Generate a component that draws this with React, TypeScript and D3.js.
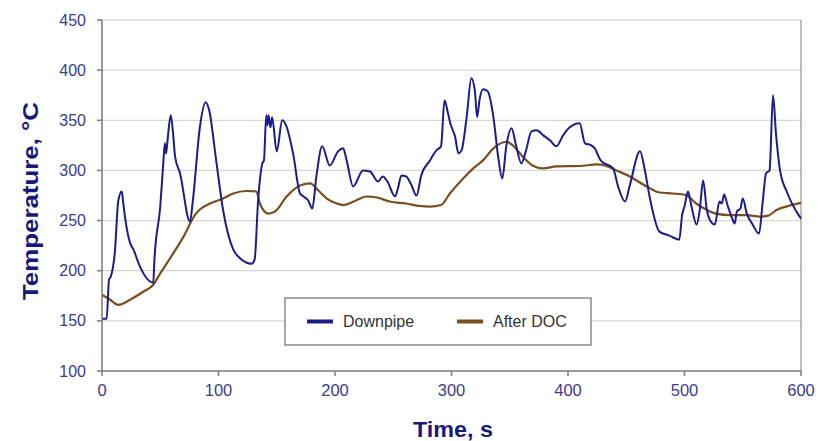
import React from 'react';
import * as d3 from 'd3';

// Downpipe temperature trace (time s, °C)
const downpipeTime = [
  0, 4, 6, 7.5, 11, 14, 17, 18, 19.7, 24, 27, 32.6, 44, 45, 50, 52.6, 54, 55, 56, 59, 61, 62.7, 67,
  75.5, 78, 84, 89, 92, 98, 104, 112.7, 118, 128.5, 131, 134, 137.6, 139, 141, 142, 143, 144.6, 146,
  150, 154.7, 158, 164, 170, 173, 177, 180.5, 184, 189, 195.5, 202.6, 207, 210, 215.6, 224, 230, 237,
  241, 245, 251.5, 254, 257, 261, 265, 270, 274, 281.5, 287, 291, 294, 297, 299, 303, 306, 308.6, 313,
  317, 320, 322, 324, 327, 331, 336, 340, 343.6, 347, 351.6, 355, 360, 364, 368.6, 373, 378.8, 384.5,
  390, 395.8, 401.5, 410, 414.6, 420, 423, 428, 438.7, 443, 449, 453, 461.8, 466, 470, 478.5, 487,
  495.5, 498, 500, 503, 506, 510.4, 513, 516, 519, 522, 526, 530, 532, 534, 537, 541, 543, 545, 548,
  550, 553.5, 558, 564, 567, 570, 573, 576, 578.5, 582, 587.7, 595, 600,
];
const downpipeTemp = [
  152, 152, 191, 194, 218, 270, 279, 270, 254, 228, 221, 204, 188, 211, 264, 307, 327, 317, 327, 355,
  337, 314, 297, 249, 270, 343, 368, 360, 310, 260, 221, 213, 207, 211, 270, 307, 310, 355, 345, 355,
  343, 353, 319, 350, 345, 317, 277, 274, 270, 262, 294, 324, 305, 319, 322, 310, 284, 300, 299, 289,
  294, 289, 274, 282, 295, 294, 287, 275, 295, 310, 320, 324, 370, 357, 347, 334, 317, 320, 353, 392,
  380, 353, 370, 381, 379, 353, 314, 292, 324, 342, 327, 307, 320, 339, 340, 335, 330, 324, 335, 343,
  347, 327, 325, 322, 310, 302, 284, 269, 285, 319, 300, 274, 239, 235, 231, 256, 264, 279, 264, 246,
  260, 290, 262, 250, 246, 269, 267, 276, 265, 252, 247, 259, 262, 272, 257, 247, 237, 267, 297, 300,
  375, 337, 300, 279, 261, 252,
];

// After DOC temperature trace
const docTime = [
  0, 7, 14, 24, 35.4, 44, 49.8, 61, 70, 80, 84, 92.7, 104, 112.7, 124, 132.6, 135.5, 142.7, 148.5,
  158.5, 170, 178.6, 185.7, 193, 201.5, 207, 218, 227, 236, 247, 261, 273, 281.5, 291, 298.6, 310,
  318.7, 327, 336, 347, 352.6, 361, 369.5, 378.8, 390, 410, 424.5, 431.6, 441.7, 453, 467.5, 478.5,
  490, 501, 510, 518.6, 527, 539, 553, 564.8, 572, 579, 590.6, 600,
];
const docTemp = [
  176, 171, 166, 171, 179, 186, 197, 217, 234, 256, 261, 267, 272, 277, 279.5, 279, 267, 257, 259,
  274, 285, 287, 280, 272, 267, 265.5, 270, 274, 273, 269, 267, 264.5, 264, 265.5, 277, 292, 302,
  310, 322, 328.6, 325, 314, 305, 302, 304, 304.4, 306, 305, 300, 294, 284, 278, 277, 275.5, 267,
  261, 257, 255.5, 255.5, 254, 255, 260.5, 265, 267.6,
];

const xTicks = [0, 100, 200, 300, 400, 500, 600];
const yTicks = [100, 150, 200, 250, 300, 350, 400, 450];

const seriesNames = ['Downpipe', 'After DOC'];
const seriesColors = ['#1c1c8a', '#7a4e1e'];

const W = 819;
const H = 441;
const margin = { top: 20, right: 18, bottom: 70, left: 102 };

export default function App() {
  const x = d3.scaleLinear().domain([0, 600]).range([margin.left, W - margin.right]);
  const y = d3.scaleLinear().domain([100, 450]).range([H - margin.bottom, margin.top]);

  const line = d3
    .line<[number, number]>()
    .x((d) => x(d[0]))
    .y((d) => y(d[1]))
    .curve(d3.curveMonotoneX);

  const down = downpipeTime.map((t, i) => [t, downpipeTemp[i]] as [number, number]);
  const doc = docTime.map((t, i) => [t, docTemp[i]] as [number, number]);

  const tickColor = '#3b3b92';
  const titleColor = '#18187a';
  const font = 'Liberation Sans, Arial, sans-serif';
  const x0 = x(0);
  const x1 = x(600);
  const yb = y(100);

  // legend box
  const lg = { x: 285, y: 298, w: 306, h: 47 };

  return (
    <div style={{ position: 'fixed', left: 0, top: 0 }}>
      <svg width={W} height={H} style={{ display: 'block', background: '#fff' }}>
        {/* gridlines */}
        {yTicks.slice(1).map((t) => (
          <line key={t} x1={x0} x2={x1} y1={y(t)} y2={y(t)} stroke="#d6d6d6" strokeWidth={1.3} />
        ))}
        {/* right border */}
        <line x1={x1} x2={x1} y1={y(450)} y2={yb} stroke="#9a9a9a" strokeWidth={1.3} />

        {/* series */}
        <path d={line(doc) || ''} fill="none" stroke={seriesColors[1]} strokeWidth={2.2} />
        <path d={line(down) || ''} fill="none" stroke={seriesColors[0]} strokeWidth={2} />

        {/* axes */}
        <line x1={x0} x2={x0} y1={y(450)} y2={yb} stroke="#7a7a7a" strokeWidth={1.5} />
        <line x1={x0} x2={x1} y1={yb} y2={yb} stroke="#7a7a7a" strokeWidth={1.5} />
        {yTicks.map((t) => (
          <g key={t}>
            <line x1={x0 - 5} x2={x0} y1={y(t)} y2={y(t)} stroke="#7a7a7a" strokeWidth={1.5} />
            <text
              x={86}
              y={y(t)}
              dy="0.35em"
              textAnchor="end"
              fill={tickColor}
              fontFamily={font}
              fontSize={16}
            >
              {t}
            </text>
          </g>
        ))}
        {xTicks.map((t) => (
          <g key={t}>
            <line x1={x(t)} x2={x(t)} y1={yb} y2={yb + 5} stroke="#7a7a7a" strokeWidth={1.5} />
            <text
              x={x(t)}
              y={yb + 25}
              textAnchor="middle"
              fill={tickColor}
              fontFamily={font}
              fontSize={16.5}
            >
              {t}
            </text>
          </g>
        ))}

        {/* axis titles */}
        <text
          x={453}
          y={437}
          textAnchor="middle"
          fill={titleColor}
          fontFamily={font}
          fontWeight="bold"
          fontSize={22}
          textLength={80}
          lengthAdjust="spacingAndGlyphs"
        >
          Time, s
        </text>
        <text
          transform={`translate(38,201) rotate(-90)`}
          textAnchor="middle"
          fill={titleColor}
          fontFamily={font}
          fontWeight="bold"
          fontSize={22}
          textLength={198}
          lengthAdjust="spacingAndGlyphs"
        >
          Temperature, °C
        </text>

        {/* legend */}
        <rect x={lg.x} y={lg.y} width={lg.w} height={lg.h} fill="#fff" stroke="#8a8a8a" strokeWidth={1.5} />
        {seriesNames.map((name, i) => {
          const lx = lg.x + 22 + i * 150;
          const ly = lg.y + lg.h / 2;
          return (
            <g key={name}>
              <line x1={lx} x2={lx + 26} y1={ly} y2={ly} stroke={seriesColors[i]} strokeWidth={4} />
              <text x={lx + 36} y={ly} dy="0.35em" fill="#333" fontFamily={font} fontSize={16}>
                {name}
              </text>
            </g>
          );
        })}
      </svg>
    </div>
  );
}
